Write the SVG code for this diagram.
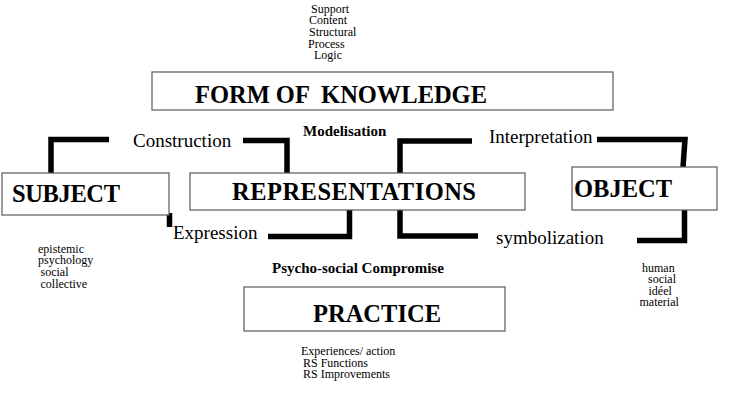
<svg xmlns="http://www.w3.org/2000/svg" width="734" height="402" viewBox="0 0 734 402">
<style>
.box{fill:#fff;stroke:#5a5a5a;stroke-width:1.2}
.title{font-family:"Liberation Serif","Times New Roman",serif;font-weight:bold;font-size:24.5px;fill:#000}
.lbl{font-family:"Liberation Serif","Times New Roman",serif;font-size:19px;fill:#000}
.mid{font-family:"Liberation Serif","Times New Roman",serif;font-weight:bold;font-size:15px;fill:#000}
.sm{font-family:"Liberation Serif","Times New Roman",serif;font-size:12px;fill:#000}
.conn{fill:none;stroke:#000;stroke-width:5.5;stroke-linejoin:miter;stroke-linecap:butt}
</style>
<rect width="734" height="402" fill="#fff"/>
<g id="connectors">
<path class="conn" d="M51 173V139.5H109"/>
<path class="conn" d="M243 140.5H287V173"/>
<path class="conn" d="M169.5 213V227"/>
<path class="conn" d="M268 236.5H349.5V210"/>
<path class="conn" d="M400 173V141H472"/>
<path class="conn" d="M597 139.5H685L683 167"/>
<path class="conn" d="M400 210V236H478"/>
<path class="conn" d="M637 240.5H684.5V210"/>
</g>
<g id="labels">
<text class="lbl" x="133" y="147">Construction</text>
<text class="lbl" x="173" y="239">Expression</text>
<text class="lbl" x="489" y="143">Interpretation</text>
<text class="lbl" x="496" y="244">symbolization</text>
<text class="mid" x="303" y="136">Modelisation</text>
<text class="mid" x="272" y="273">Psycho-social Compromise</text>
</g>
<g id="form-of-knowledge">
<rect class="box" x="152" y="72" width="461" height="38"/>
<text class="title" x="195" y="103" xml:space="preserve" textLength="292">FORM OF  KNOWLEDGE</text>
<text class="sm" x="311" y="13">Support</text>
<text class="sm" x="309" y="24">Content</text>
<text class="sm" x="309" y="36">Structural</text>
<text class="sm" x="308" y="47.5">Process</text>
<text class="sm" x="314" y="59">Logic</text>
</g>
<g id="subject">
<rect class="box" x="2" y="173" width="167" height="42"/>
<text class="title" x="12" y="202" textLength="108">SUBJECT</text>
<text class="sm" x="38" y="253">epistemic</text>
<text class="sm" x="38" y="264">psychology</text>
<text class="sm" x="40.5" y="276">social</text>
<text class="sm" x="40.5" y="287.5">collective</text>
</g>
<g id="representations">
<rect class="box" x="190" y="173" width="335" height="37"/>
<text class="title" x="232" y="200" textLength="244">REPRESENTATIONS</text>
</g>
<g id="object">
<rect class="box" x="572" y="167" width="145" height="43"/>
<text class="title" x="574" y="197" textLength="98">OBJECT</text>
<text class="sm" x="642" y="272">human</text>
<text class="sm" x="648" y="283">social</text>
<text class="sm" x="648.5" y="294.5">idéel</text>
<text class="sm" x="639.5" y="306">material</text>
</g>
<g id="practice">
<rect class="box" x="244" y="287" width="261" height="44"/>
<text class="title" x="313" y="322" textLength="128">PRACTICE</text>
<text class="sm" x="301" y="355">Experiences/ action</text>
<text class="sm" x="303" y="367">RS Functions</text>
<text class="sm" x="303" y="378">RS Improvements</text>
</g>
</svg>
